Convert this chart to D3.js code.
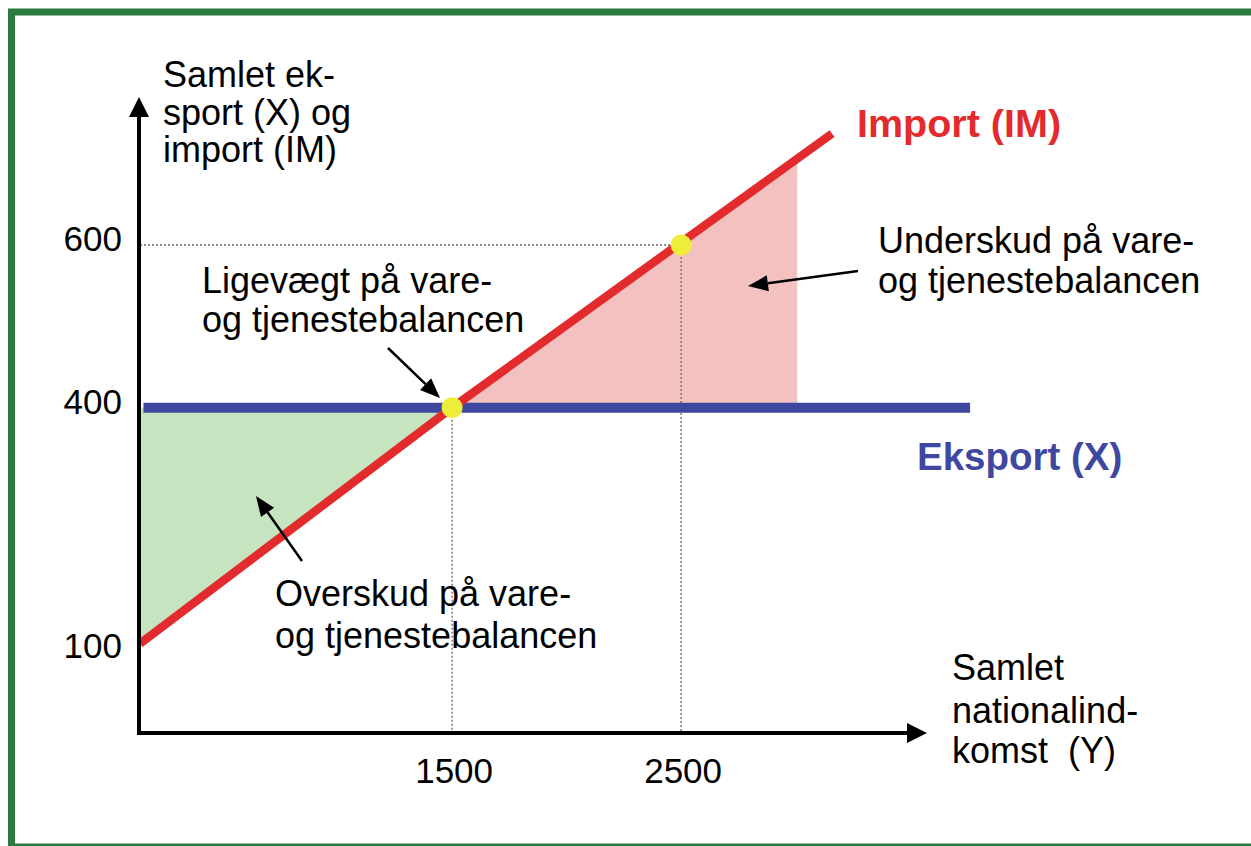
<!DOCTYPE html>
<html>
<head>
<meta charset="utf-8">
<title>Eksport og import</title>
<script src="https://d3js.org/d3.v7.min.js"></script>
<style>
  body { margin: 0; background: #fff; }
  text { font-family: "Liberation Sans", Arial, sans-serif; }
</style>
</head>
<body>
<svg></svg>
<script>
// data
var yTicks = [100, 400, 600];
var xTicks = [1500, 2500];

var exportY = [152, 3762];      // national income
var exportX = [400, 400];       // export level (flat)

var importY  = [137, 1500, 3159];
var importIM = [110, 400, 737];

var surplusY   = [137, 1500];   // green: export above import
var surplusLow = [110, 400];
var deficitY    = [1500, 3007]; // red: import above export
var deficitHigh = [400, 706];

var pointY = [1500, 2500];
var pointV = [400, 600];

var width = 1251, height = 846;

var svg = d3.select('svg')
    .attr('width', width)
    .attr('height', height);

// scales
var x = d3.scaleLinear().domain([137, 3565]).range([140, 925]);
var y = d3.scaleLinear().domain([0, 782]).range([733, 97]);

// green frame
svg.append('rect')
    .attr('x', 11.5).attr('y', 12)
    .attr('width', 1300).attr('height', 835)
    .attr('fill', 'none')
    .attr('stroke', '#2b7a3f')
    .attr('stroke-width', 7);

// shaded areas
var area = d3.area()
    .x(function (d) { return x(d[0]); })
    .y0(function (d) { return y(d[1]); })
    .y1(function (d) { return y(d[2]); });

svg.append('path')
    .datum(surplusY.map(function (v, i) { return [v, 400, surplusLow[i]]; }))
    .attr('d', area)
    .attr('fill', '#c6e4c0');

svg.append('path')
    .datum(deficitY.map(function (v, i) { return [v, 400, deficitHigh[i]]; }))
    .attr('d', area)
    .attr('fill', '#f4c1c1');

// dotted guide lines
var guides = svg.append('g')
    .attr('stroke', '#666')
    .attr('stroke-width', 1.3)
    .attr('stroke-dasharray', '2,2');
guides.append('line')
    .attr('x1', x(137)).attr('x2', x(2500))
    .attr('y1', y(600)).attr('y2', y(600));
pointY.forEach(function (v, i) {
    guides.append('line')
        .attr('x1', x(v)).attr('x2', x(v))
        .attr('y1', y(pointV[i])).attr('y2', y(0));
});

// export and import lines
var line = d3.line()
    .x(function (d) { return x(d[0]); })
    .y(function (d) { return y(d[1]); });

svg.append('path')
    .datum(exportY.map(function (v, i) { return [v, exportX[i]]; }))
    .attr('d', line)
    .attr('fill', 'none')
    .attr('stroke', '#3f48a0')
    .attr('stroke-width', 10);

svg.append('path')
    .datum(importY.map(function (v, i) { return [v, importIM[i]]; }))
    .attr('d', line)
    .attr('fill', 'none')
    .attr('stroke', '#e32b2d')
    .attr('stroke-width', 8.5);

// axes with arrows
svg.append('line')
    .attr('x1', 139).attr('y1', y(0) + 2)
    .attr('x2', 139).attr('y2', 112)
    .attr('stroke', '#000').attr('stroke-width', 4);
svg.append('path')
    .attr('d', 'M139,97 L129,117 L149,117 Z')
    .attr('fill', '#000');

svg.append('line')
    .attr('x1', 137).attr('y1', y(0))
    .attr('x2', 910).attr('y2', y(0))
    .attr('stroke', '#000').attr('stroke-width', 4);
svg.append('path')
    .attr('d', 'M927,' + y(0) + ' L907,' + (y(0) - 10) + ' L907,' + (y(0) + 10) + ' Z')
    .attr('fill', '#000');

// tick labels
svg.selectAll('.ytick')
    .data(yTicks)
    .enter().append('text')
    .attr('class', 'ytick')
    .attr('x', 122)
    .attr('y', function (d) { return y(d) + 6; })
    .attr('text-anchor', 'end')
    .style('font-size', '35px')
    .text(function (d) { return d; });

svg.selectAll('.xtick')
    .data(xTicks)
    .enter().append('text')
    .attr('class', 'xtick')
    .attr('x', function (d) { return x(d) + 2; })
    .attr('y', 783)
    .attr('text-anchor', 'middle')
    .style('font-size', '35px')
    .text(function (d) { return d; });

// points
svg.selectAll('.pt')
    .data(pointY)
    .enter().append('circle')
    .attr('class', 'pt')
    .attr('cx', function (d) { return x(d); })
    .attr('cy', function (d, i) { return y(pointV[i]); })
    .attr('r', 10.5)
    .attr('fill', '#eeee3a');

// text blocks
function block(lines, x0, ys, opts) {
    opts = opts || {};
    var t = svg.append('text')
        .style('font-size', opts.size || '36px')
        .style('font-weight', opts.weight || 'normal')
        .style('white-space', 'pre')
        .attr('fill', opts.color || '#000');
    lines.forEach(function (s, i) {
        t.append('tspan').attr('x', x0).attr('y', ys[i]).text(s);
    });
}

block(['Samlet ek-', 'sport (X) og', 'import (IM)'], 163, [87, 125, 162]);
block(['Samlet', 'nationalind-', 'komst  (Y)'], 952, [680, 723, 763]);
block(['Ligevægt på vare-', 'og tjenestebalancen'], 202, [293, 332]);
block(['Overskud på vare-', 'og tjenestebalancen'], 275, [606, 648]);
block(['Underskud på vare-', 'og tjenestebalancen'], 878, [253, 293]);
block(['Import (IM)'], 857, [137], { size: '39.5px', weight: 'bold', color: '#e32b2d' });
block(['Eksport (X)'], 917, [470], { size: '38.5px', weight: 'bold', color: '#3f48a0' });

// annotation arrows
function arrow(x1, y1, x2, y2) {
    var a = Math.atan2(y2 - y1, x2 - x1), len = 20, half = 8;
    var bx = x2 - len * Math.cos(a), by = y2 - len * Math.sin(a);
    svg.append('line')
        .attr('x1', x1).attr('y1', y1).attr('x2', bx).attr('y2', by)
        .attr('stroke', '#000').attr('stroke-width', 2.5);
    svg.append('path')
        .attr('d', 'M' + x2 + ',' + y2 +
            ' L' + (bx + half * Math.sin(a)) + ',' + (by - half * Math.cos(a)) +
            ' L' + (bx - half * Math.sin(a)) + ',' + (by + half * Math.cos(a)) + ' Z')
        .attr('fill', '#000');
}
arrow(388, 348, 440, 398);
arrow(302, 561, 256, 496);
arrow(858, 271, 748, 286);
</script>
</body>
</html>
